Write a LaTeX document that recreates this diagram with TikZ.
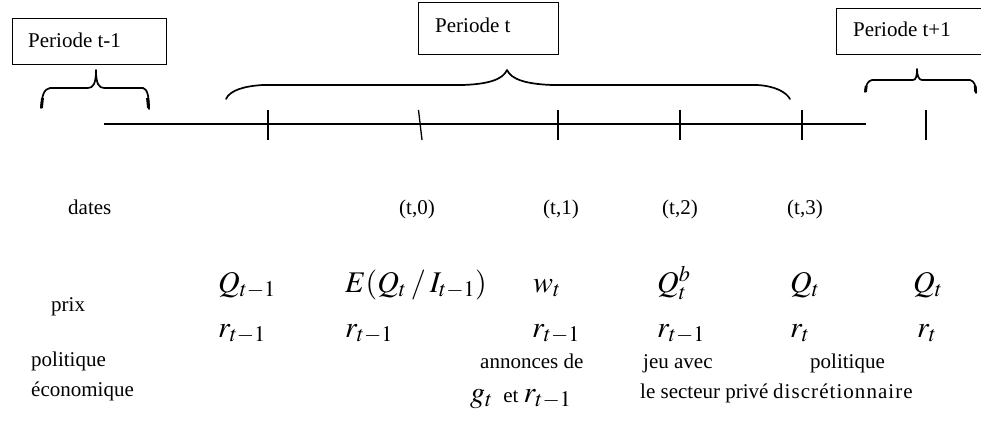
\documentclass[tikz,border=0pt]{standalone}
\usepackage{mathptmx}
\usepackage{fontspec}
\setmainfont{Liberation Serif}
\newcommand\tfont{\fontsize{21}{25}\selectfont}
\newcommand\mfont{\fontsize{30}{35}\selectfont}
\begin{document}
\begin{tikzpicture}[x=1pt,y=-1pt,
  pbox/.style={draw, line width=1pt, anchor=north west, inner sep=0pt},
  lab/.style={anchor=base west, inner sep=0pt, font=\tfont},
  labc/.style={anchor=base, inner sep=0pt, font=\tfont},
  mlab/.style={anchor=base west, inner sep=0pt, font=\mfont},
  brace/.style={line width=1.7pt, line cap=round, line join=round},
  braceend/.style={line width=2.8pt, line cap=butt},
  axis/.style={line width=1.2pt},
  tick/.style={line width=1.3pt}]
\useasboundingbox (0,0) rectangle (981,427);

% period boxes
\node[pbox, minimum width=154pt, minimum height=46pt] (bprev) at (12,18) {};
\node[lab] (tprev) at (28,48) {Periode t-1};
\node[pbox, minimum width=140pt, minimum height=52pt] (bcur) at (418,2) {};
\node[lab] (tcur) at (435,33) {Periode t};
\node[pbox, minimum width=150pt, minimum height=46pt] (bnext) at (836,8) {};
\node[lab] (tnext) at (853,37) {Periode t+1};

% braces
\draw[brace] (41,108) .. controls (42,95) and (44,89) .. (50,88) -- (88,88)
  .. controls (93,88) and (96,84) .. (96,70)
  .. controls (96,84) and (99,88) .. (104,88) -- (143,88)
  .. controls (147,89) and (149,95) .. (149,109);
\draw[braceend] (41.5,108) -- (42.5,98);
\draw[braceend] (148.5,108) -- (147.5,98);
\draw[braceend] (96,70) -- (96,78);
\draw[brace] (226,99) .. controls (230,90) and (245,86) .. (263,85) -- (463,85)
  .. controls (490,84) and (503,79) .. (507,70)
  .. controls (511,79) and (525,84) .. (552,85) -- (757,85)
  .. controls (775,86) and (786,92) .. (790,99);
\draw[brace] (865,92) .. controls (866,84) and (868,81) .. (872,80) -- (913,80)
  .. controls (916,80) and (917,76) .. (917,69)
  .. controls (917,76) and (919,80) .. (922,80) -- (970,80)
  .. controls (974,81) and (976,85) .. (976,93);
\draw[braceend] (865.5,92) -- (866.2,86);
\draw[braceend] (975.7,92) -- (975.2,86);

% time line
\coordinate (ax0) at (104,124);
\coordinate (ax1) at (866,124);
\draw[axis] (ax0) -- (ax1);
\coordinate (k1a) at (268,110); \coordinate (k1b) at (268,140);
\coordinate (k2a) at (418.5,110); \coordinate (k2b) at (422,140);
\coordinate (k3a) at (558,110); \coordinate (k3b) at (558,140);
\coordinate (k4a) at (680,110); \coordinate (k4b) at (680,140);
\coordinate (k5a) at (802,110); \coordinate (k5b) at (802,140);
\coordinate (k6a) at (926,110); \coordinate (k6b) at (926,140);
\foreach \k in {1,...,6} {\draw[tick] (k\k a) -- (k\k b);}

% dates row
\node[lab] (dates) at (68,215) {dates};
\node[labc] (d0) at (417,215) {(t,0)};
\node[labc] (d1) at (561,215) {(t,1)};
\node[labc] (d2) at (680,215) {(t,2)};
\node[labc] (d3) at (805,215) {(t,3)};

% prix rows
\node[lab] (prix) at (51,311) {prix};
\node[mlab] (q0) at (218,292) {$Q_{t-1}$};
\node[mlab] (q1) at (345,292) {$E(Q_t\:/\:I_{t-1})$};
\node[mlab] (q2) at (533,292) {$w_t$};
\node[mlab] (q3) at (657,292) {$Q_t^b$};
\node[mlab] (q4) at (790,292) {$Q_t$};
\node[mlab] (q5) at (913,292) {$Q_t$};
\node[mlab] (r0) at (218,337) {$r_{t-1}$};
\node[mlab] (r1) at (345,337) {$r_{t-1}$};
\node[mlab] (r2) at (532,337) {$r_{t-1}$};
\node[mlab] (r3) at (657,337) {$r_{t-1}$};
\node[mlab] (r4) at (790,337) {$r_t$};
\node[mlab] (r5) at (917,337) {$r_t$};

% politique rows
\node[lab] (pol) at (31,366) {politique};
\node[lab] (eco) at (31,396) {économique};
\node[lab] (ann) at (480,368) {annonces de};
\node[lab] (jeu) at (643,368) {jeu avec};
\node[lab] (pol2) at (810,368) {politique};
\node[lab] (gt) at (470,402) {{\mfont$g_t$}\ \ et {\mfont$r_{t-1}$}};
\node[lab] (sec) at (640,398) {le secteur privé};
\node[lab, font=\tfont\addfontfeature{LetterSpace=5}] (disc) at (773,398) {discrétionnaire};
\end{tikzpicture}
\end{document}
